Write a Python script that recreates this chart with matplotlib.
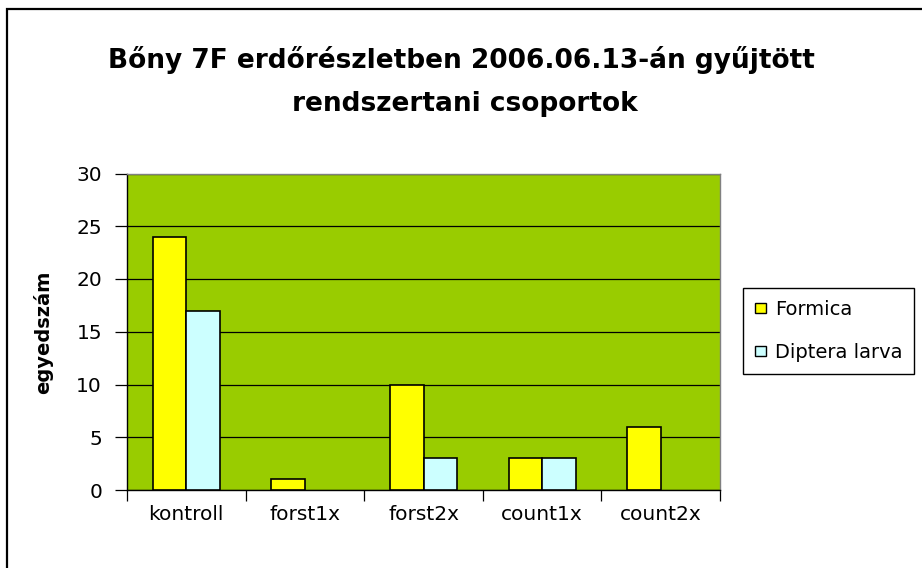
import matplotlib
matplotlib.use("Agg")
import matplotlib.pyplot as plt
import numpy as np
from matplotlib.patches import Rectangle

categories = ["kontroll", "forst1x", "forst2x", "count1x", "count2x"]
formica = [24, 1, 10, 3, 6]
diptera = [17, 0, 3, 3, 0]
series_names = ["Formica", "Diptera larva"]
yticks = [0, 5, 10, 15, 20, 25, 30]
ylabel = "egyedszám"

W, H = 922, 568
fig = plt.figure(figsize=(W / 100, H / 100), dpi=100)
fig.patch.set_facecolor("white")

# chart outer border (only top/left visible in image)
fig.add_artist(Rectangle((6.5 / W, -0.1), 1.2, 1 - 8.5 / H + 0.1, transform=fig.transFigure,
                         fill=False, edgecolor="black", linewidth=1.6))

ax = fig.add_axes([127 / W, (H - 490) / H, 593 / W, (490 - 173.5) / H])
ax.set_facecolor("#99CC00")

x = np.arange(len(categories))
bw = 0.283
ax.bar(x - bw / 2, formica, bw, color="#FFFF00", edgecolor="black", linewidth=1.2,
       label=series_names[0], zorder=3)
ax.bar(x + bw / 2, [v if v > 0 else np.nan for v in diptera], bw, color="#CCFFFF",
       edgecolor="black", linewidth=1.2, label=series_names[1], zorder=3)

ax.set_xlim(-0.5, len(categories) - 0.5)
ax.set_ylim(0, 30)
ax.set_yticks(yticks)
ax.set_yticklabels([str(v) for v in yticks])
ax.yaxis.grid(True, color="black", linewidth=0.9, zorder=1)
ax.set_axisbelow(True)

ax.set_xticks(x)
ax.set_xticklabels(categories)
ax.set_xticks(np.arange(-0.5, len(categories)), minor=True)
ax.tick_params(axis="x", which="major", length=0, pad=11, labelsize=14.5)
ax.tick_params(axis="x", which="minor", length=8, width=0.9, color="black", direction="out")
ax.tick_params(axis="y", length=9, width=0.9, direction="out", pad=9, labelsize=14.5)

for s in ["left", "bottom"]:
    ax.spines[s].set_color("black")
    ax.spines[s].set_linewidth(1.0)
for s in ["top", "right"]:
    ax.spines[s].set_color("#808080")
    ax.spines[s].set_linewidth(1.0)

fig.text(461 / W, 1 - 68 / H, "Bőny 7F erdőrészletben 2006.06.13-án gyűjtött",
         ha="center", va="baseline", fontsize=19, fontweight="bold")
fig.text(465 / W, 1 - 111 / H, "rendszertani csoportok",
         ha="center", va="baseline", fontsize=19, fontweight="bold")

fig.text(43 / W, 1 - 332 / H, ylabel, rotation=90, ha="center", va="center",
         fontsize=14, fontweight="bold")

handles = [Rectangle((0, 0), 1, 1, facecolor="#FFFF00", edgecolor="black", linewidth=1.0),
           Rectangle((0, 0), 1, 1, facecolor="#CCFFFF", edgecolor="black", linewidth=1.0)]
leg = fig.legend(handles, series_names, loc="upper left",
                 bbox_to_anchor=(743 / W, 1 - 288 / H), fontsize=14,
                 handlelength=0.6, handleheight=0.45, handletextpad=0.45,
                 labelspacing=1.25, borderpad=0.6, borderaxespad=0,
                 fancybox=False, framealpha=1, edgecolor="black")
leg.get_frame().set_linewidth(1.0)

fig.savefig("out.png", dpi=100)
